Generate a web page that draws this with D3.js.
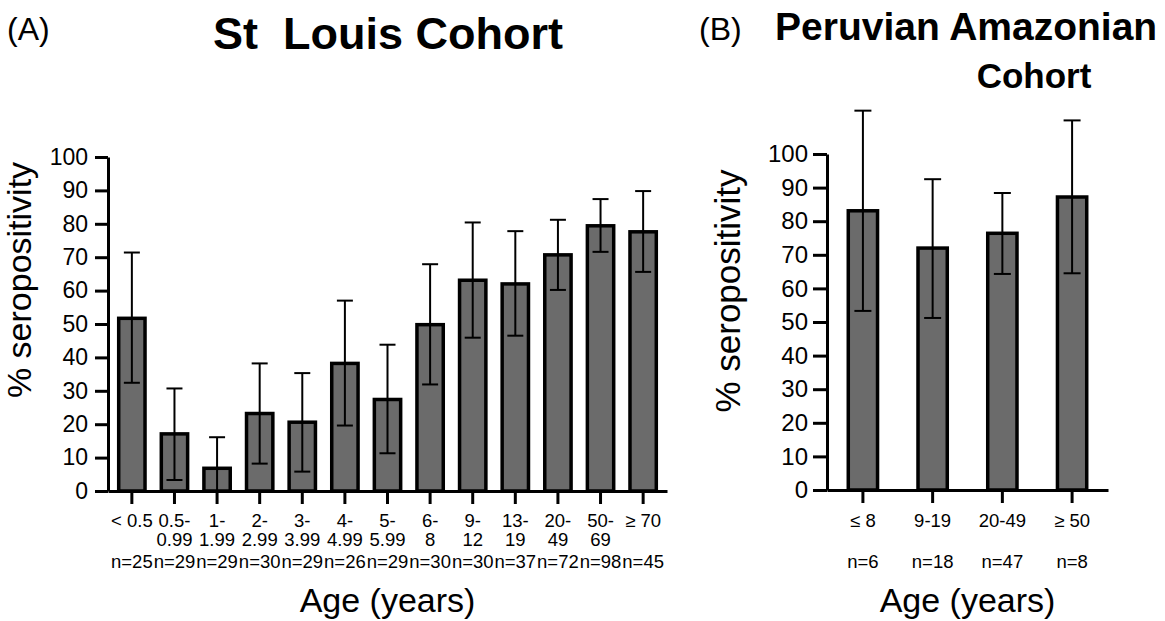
<!DOCTYPE html>
<html>
<head>
<meta charset="utf-8">
<script src="https://cdn.jsdelivr.net/npm/d3@7"></script>
<style>
  html, body { margin: 0; padding: 0; background: #fff; }
  svg { display: block; font-family: "Liberation Sans", Arial, sans-serif; }
  .axis .domain, .axis line { stroke: #000; stroke-width: 3; }
  .axis text { fill: #000; }
</style>
</head>
<body>
<svg id="fig" width="1165" height="621"></svg>
<script>
// St Louis cohort (A)
const agesA = [['< 0.5'], ['0.5-', '0.99'], ['1-', '1.99'], ['2-', '2.99'], ['3-', '3.99'], ['4-', '4.99'],
  ['5-', '5.99'], ['6-', '8'], ['9-', '12'], ['13-', '19'], ['20-', '49'], ['50-', '69'], ['≥ 70']];
const nA = [25, 29, 29, 30, 29, 26, 29, 30, 30, 37, 72, 98, 45];
const seroA = [51.7, 17.1, 6.8, 23.2, 20.6, 38.2, 27.4, 49.8, 63.1, 62.0, 70.7, 79.4, 77.6];
const lowA = [32.4, 3.3, 0, 8.2, 5.8, 19.6, 11.3, 31.9, 45.9, 46.5, 60.2, 71.6, 65.6];
const highA = [71.4, 30.7, 16.1, 38.2, 35.3, 57.0, 43.8, 67.9, 80.4, 77.8, 81.2, 87.4, 89.8];

// Peruvian Amazonian cohort (B)
const agesB = [['≤ 8'], ['9-19'], ['20-49'], ['≥ 50']];
const nB = [6, 18, 47, 8];
const seroB = [83.1, 72.0, 76.4, 87.2];
const lowB = [53.3, 51.2, 64.3, 64.5];
const highB = [112.9, 92.5, 88.4, 110.0];

const yTicks = d3.range(0, 101, 10);

const svg = d3.select('#fig');

function panel(o) {
  const g = svg.append('g');
  const cats = o.ages.map((d, i) => i);
  const x = d3.scaleBand().domain(cats).range([o.left, o.right])
    .paddingInner(o.padInner).paddingOuter(o.padOuter);
  const y = d3.scaleLinear().domain([0, 100]).range([o.bottom, o.top]);
  const bw = x.bandwidth(), sw = 3.5;

  // bars
  g.append('g').selectAll('rect').data(o.vals).join('rect')
    .attr('x', (d, i) => x(i) + sw / 2)
    .attr('width', bw - sw)
    .attr('y', d => y(d))
    .attr('height', d => y(0) - y(d))
    .attr('fill', '#6b6b6b').attr('stroke', '#000').attr('stroke-width', sw);

  // error bars
  const eb = g.append('g').attr('stroke', '#000').attr('stroke-width', 2);
  o.vals.forEach((v, i) => {
    const cx = x(i) + bw / 2;
    eb.append('line').attr('x1', cx).attr('x2', cx).attr('y1', y(o.low[i])).attr('y2', y(o.high[i]));
    eb.append('line').attr('x1', cx - o.cap / 2).attr('x2', cx + o.cap / 2).attr('y1', y(o.high[i])).attr('y2', y(o.high[i]));
    if (o.low[i] > 0)
      eb.append('line').attr('x1', cx - o.cap / 2).attr('x2', cx + o.cap / 2).attr('y1', y(o.low[i])).attr('y2', y(o.low[i]));
  });

  // y axis
  g.append('g').attr('class', 'axis')
    .attr('transform', `translate(${o.left},0)`)
    .call(d3.axisLeft(y).tickValues(yTicks).tickSize(o.tickLen).tickSizeOuter(0).tickPadding(o.yPad))
    .attr('font-family', null).attr('font-size', o.yFont);

  // x axis, labels written by hand (multi-line)
  const xa = g.append('g').attr('class', 'axis')
    .attr('transform', `translate(0,${o.bottom})`)
    .call(d3.axisBottom(x).tickSize(13).tickSizeOuter(0).tickFormat(''));
  xa.selectAll('.tick text').remove();

  const lab = g.append('g').attr('font-size', o.xFont).attr('text-anchor', 'middle');
  o.ages.forEach((lines, i) => {
    const cx = x(i) + bw / 2;
    lines.forEach((t, k) => lab.append('text').attr('x', cx).attr('y', o.lineY[k]).text(t));
    lab.append('text').attr('x', cx).attr('y', o.nY).text('n=' + o.n[i]);
  });

  // axis titles
  g.append('text').attr('transform', `translate(${o.yLabX},${o.yLabY}) rotate(-90)`)
    .attr('text-anchor', 'middle').attr('font-size', o.yLabFont).text('% seropositivity');
  g.append('text').attr('x', (o.left + o.right) / 2).attr('y', 612)
    .attr('text-anchor', 'middle').attr('font-size', 34).text('Age (years)');
}

panel({
  ages: agesA, n: nA, vals: seroA, low: lowA, high: highA,
  left: 108, right: 667, top: 157, bottom: 491,
  padInner: 0.3, padOuter: 0.21, cap: 16,
  tickLen: 13, yPad: 7, yFont: 23, xFont: 18.5,
  lineY: [527, 546], nY: 568,
  yLabX: 31, yLabY: 280, yLabFont: 34,
});

panel({
  ages: agesB, n: nB, vals: seroB, low: lowB, high: highB,
  left: 827, right: 1108, top: 154, bottom: 490,
  padInner: 0.53, padOuter: 0.28, cap: 17,
  tickLen: 14, yPad: 5, yFont: 24, xFont: 18.5,
  lineY: [527], nY: 568,
  yLabX: 740, yLabY: 291, yLabFont: 35,
});

// panel headings
svg.append('text').attr('x', 7).attr('y', 40).attr('font-size', 32).text('(A)');
svg.append('text').attr('x', 388).attr('y', 49).attr('text-anchor', 'middle')
  .attr('font-size', 45).attr('font-weight', 'bold').style('white-space', 'pre').text('St  Louis Cohort');
svg.append('text').attr('x', 699).attr('y', 40).attr('font-size', 32).text('(B)');
svg.append('text').attr('x', 775).attr('y', 40)
  .attr('font-size', 39).attr('font-weight', 'bold').text('Peruvian Amazonian');
svg.append('text').attr('x', 1034).attr('y', 88).attr('text-anchor', 'middle')
  .attr('font-size', 35).attr('font-weight', 'bold').text('Cohort');
</script>
</body>
</html>
